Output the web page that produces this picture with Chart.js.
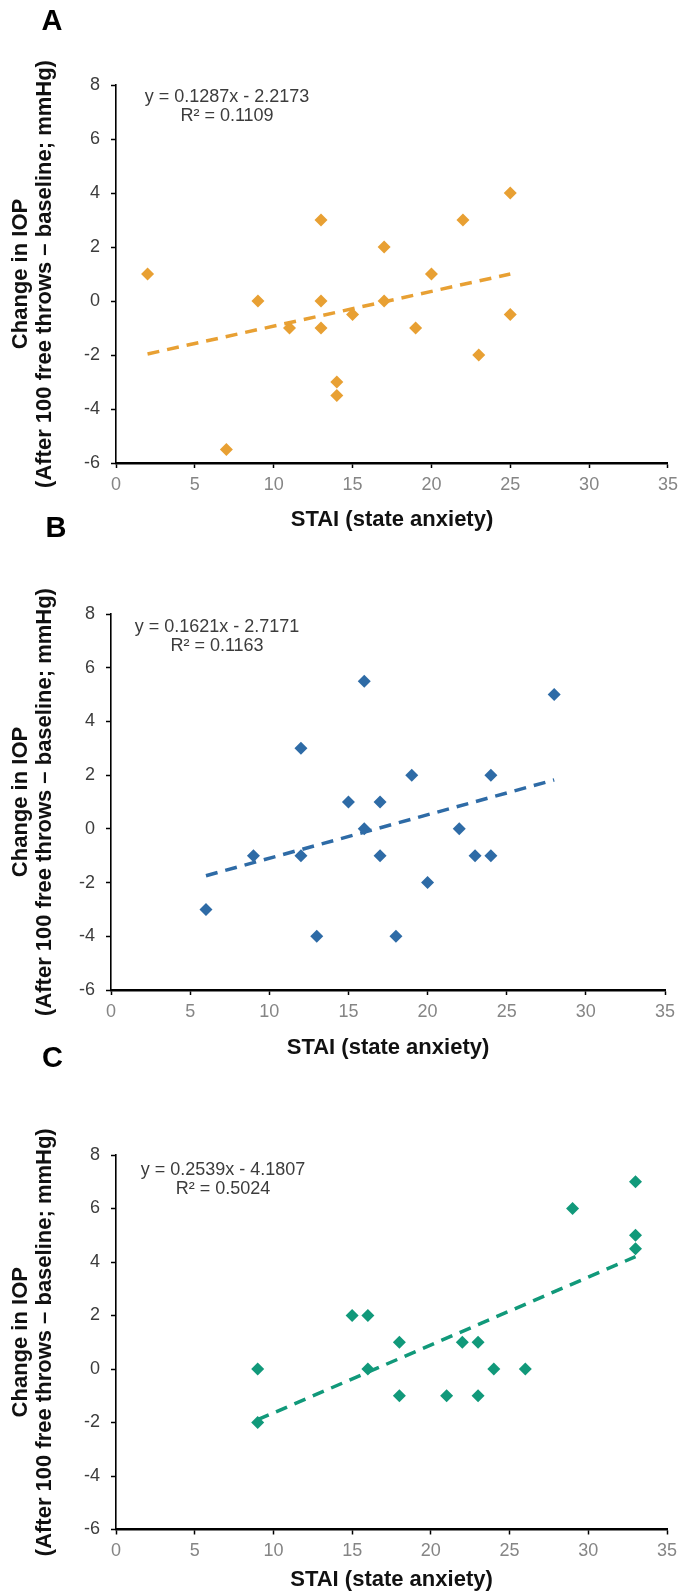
<!DOCTYPE html>
<html>
<head>
<meta charset="utf-8">
<script src="https://cdn.jsdelivr.net/npm/chart.js@4.4.1/dist/chart.umd.min.js"></script>
<style>
  html, body { margin: 0; padding: 0; background: #ffffff; }
  body { width: 684px; height: 1596px; position: relative; overflow: hidden; }
  canvas { position: absolute; left: 0; }
</style>
</head>
<body>
<canvas id="panelA" width="684" height="536" style="top:0px"></canvas>
<canvas id="panelB" width="684" height="560" style="top:500px"></canvas>
<canvas id="panelC" width="684" height="556" style="top:1040px"></canvas>
<script>
// ---- Data: STAI state-anxiety score vs. change in IOP (mmHg) ----
const stateAnxietyA = [2, 7, 9, 11, 13, 13, 13, 14, 14, 15, 17, 17, 19, 20, 22, 23, 25, 25];
const iopChangeA    = [1, -5.5, 0, -1, 3, 0, -1, -3, -3.5, -0.5, 2, 0, -1, 1, 3, -2, 4, -0.5];
const slopeA = 0.1287, interceptA = -2.2173, rSquaredA = 0.1109;

const stateAnxietyB = [6, 9, 12, 12, 13, 15, 16, 16, 17, 17, 18, 19, 20, 22, 23, 24, 24, 28];
const iopChangeB    = [-3, -1, 3, -1, -4, 1, 5.5, 0, 1, -1, -4, 2, -2, 0, -1, 2, -1, 5];
const slopeB = 0.1621, interceptB = -2.7171, rSquaredB = 0.1163;

const stateAnxietyC = [9, 9, 15, 16, 16, 18, 18, 21, 22, 23, 23, 24, 26, 29, 33, 33, 33];
const iopChangeC    = [0, -2, 2, 2, 0, 1, -1, -1, 1, 1, -1, 0, 0, 6, 7, 5, 4.5];
const slopeC = 0.2539, interceptC = -4.1807, rSquaredC = 0.5024;

const xTickValues = [0, 5, 10, 15, 20, 25, 30, 35];
const yTickValues = [-6, -4, -2, 0, 2, 4, 6, 8];

const panelLetters = ['A', 'B', 'C'];
const xAxisTitle = 'STAI (state anxiety)';
const yAxisTitle = ['Change in IOP', '(After 100 free throws \u2013 baseline; mmHg)'];

// ---- Styling ----
const NARROW = "'Liberation Sans Narrow', 'Arial Narrow', 'Liberation Sans', Arial, sans-serif";
const SANS = "'Liberation Sans', Arial, sans-serif";
const colors = ['#E8A033', '#2E6BA6', '#11997A'];

// Panel letter and trendline equation text
const panelText = {
  id: 'panelText',
  afterDraw(chart, args, o) {
    const { ctx, chartArea } = chart;
    ctx.save();
    ctx.textAlign = 'center';
    ctx.textBaseline = 'middle';
    ctx.fillStyle = '#000000';
    ctx.font = 'bold 29px ' + SANS;
    ctx.fillText(o.letter, o.letterX, o.letterY);
    ctx.fillStyle = '#3c3c3c';
    ctx.font = '18px ' + NARROW;
    const cx = chartArea.left + o.eqDX;
    const cy = chartArea.top + o.eqDY;
    ctx.fillText(o.lines[0], cx, cy);
    ctx.fillText(o.lines[1], cx, cy + 19);
    ctx.restore();
  }
};

function equationLines(slope, intercept, r2) {
  const sign = intercept < 0 ? ' - ' : ' + ';
  return ['y = ' + slope.toFixed(4) + 'x' + sign + Math.abs(intercept).toFixed(4),
          'R\u00b2 = ' + r2.toFixed(4)];
}

function buildPanel(canvasId, idx, xs, ys, slope, intercept, r2, lay) {
  const canvas = document.getElementById(canvasId);
  const W = canvas.width, H = canvas.height;
  const color = colors[idx];
  const points = xs.map((x, i) => ({ x: x, y: ys[i] }));
  const xMin = Math.min(...xs), xMax = Math.max(...xs);
  const trend = [
    { x: xMin, y: slope * xMin + intercept },
    { x: xMax, y: slope * xMax + intercept }
  ];
  const titleLH = 1.1 * 22;

  new Chart(canvas, {
    type: 'scatter',
    data: {
      datasets: [
        {
          type: 'line',
          data: trend,
          borderColor: color,
          borderWidth: 3.5,
          borderDash: [12, 8],
          borderCapStyle: 'butt',
          pointRadius: 0,
          fill: false,
          tension: 0,
          order: 0
        },
        {
          type: 'scatter',
          data: points,
          pointStyle: 'rectRot',
          pointRadius: 6.5,
          pointHoverRadius: 6.5,
          backgroundColor: color,
          borderWidth: 0,
          order: 1
        }
      ]
    },
    options: {
      responsive: false,
      animation: false,
      events: [],
      layout: { padding: { left: 0, top: lay.top, right: W - lay.right, bottom: 0 } },
      plugins: {
        legend: { display: false },
        tooltip: { enabled: false },
        panelText: {
          letter: panelLetters[idx],
          letterX: lay.letterX, letterY: lay.letterY,
          eqDX: lay.eqDX, eqDY: lay.eqDY,
          lines: equationLines(slope, intercept, r2)
        }
      },
      scales: {
        x: {
          type: 'linear',
          min: 0, max: 35,
          afterBuildTicks: s => { s.ticks = xTickValues.map(v => ({ value: v })); },
          afterFit: s => { s.height = H - lay.bottom; },
          grid: { display: true, drawOnChartArea: false, drawTicks: true, tickLength: 5, color: '#000000', tickWidth: 1.5 },
          border: { display: true, color: '#000000', width: 2.4 },
          ticks: { autoSkip: false, maxRotation: 0, padding: 6, color: '#858585', font: { family: NARROW, size: 18 } },
          title: {
            display: true, text: xAxisTitle, color: '#111111',
            font: { family: SANS, size: 22, weight: 'bold', lineHeight: 1.1 },
            padding: { top: 0, bottom: Math.max(0, H - lay.xTitleY - titleLH / 2) }
          }
        },
        y: {
          type: 'linear',
          min: -6, max: 8,
          afterBuildTicks: s => { s.ticks = yTickValues.map(v => ({ value: v })); },
          afterFit: s => { s.width = lay.left; },
          grid: { display: true, drawOnChartArea: false, drawTicks: true, tickLength: 5, color: '#000000', tickWidth: 1.5 },
          border: { display: true, color: '#000000', width: 1.6 },
          ticks: { autoSkip: false, padding: 11, color: '#3c3c3c', font: { family: NARROW, size: 18 } },
          title: {
            display: true, text: yAxisTitle, color: '#111111',
            font: { family: SANS, size: 22, weight: 'bold', lineHeight: 1.1 },
            padding: { top: 9, bottom: 0 }
          }
        }
      }
    },
    plugins: [panelText]
  });
}

buildPanel('panelA', 0, stateAnxietyA, iopChangeA, slopeA, interceptA, rSquaredA,
  { left: 116, top: 85, right: 670, bottom: 463, xTitleY: 520, letterX: 52, letterY: 22, eqDX: 111, eqDY: 12 });
buildPanel('panelB', 1, stateAnxietyB, iopChangeB, slopeB, interceptB, rSquaredB,
  { left: 111, top: 114, right: 665, bottom: 490, xTitleY: 548, letterX: 56, letterY: 29, eqDX: 106, eqDY: 13 });
buildPanel('panelC', 2, stateAnxietyC, iopChangeC, slopeC, interceptC, rSquaredC,
  { left: 116, top: 115, right: 667, bottom: 489.5, xTitleY: 540, letterX: 52.5, letterY: 19, eqDX: 107, eqDY: 15 });
</script>
</body>
</html>
